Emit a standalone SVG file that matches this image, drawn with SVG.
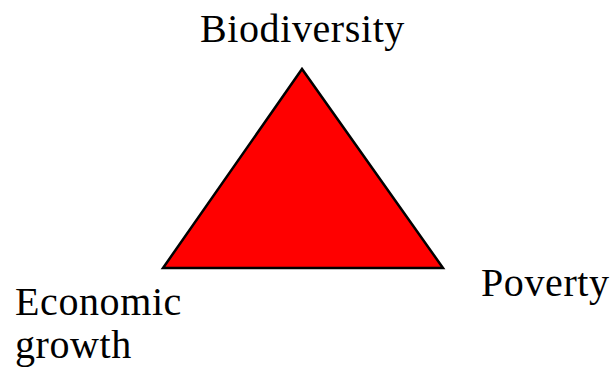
<svg xmlns="http://www.w3.org/2000/svg" width="614" height="371" viewBox="0 0 614 371">
<style>
.lbl{font-family:"Liberation Serif","Times New Roman",serif;font-size:40px;fill:#000;letter-spacing:0.6px}
.tri{fill:#ff0000;stroke:#000;stroke-width:2.5;stroke-linejoin:miter}
</style>
<rect width="614" height="371" fill="#fff"/>
<g id="triangle"><polygon class="tri" points="302,69 163,268 443,268"/></g>
<g id="biodiversity"><text class="lbl" x="200" y="42">Biodiversity</text></g>
<g id="economic-growth"><text class="lbl" x="15" y="315">Economic</text><text class="lbl" x="15" y="358">growth</text></g>
<g id="poverty"><text class="lbl" x="481" y="296">Poverty</text></g>
<g id="connectors"></g>
</svg>
